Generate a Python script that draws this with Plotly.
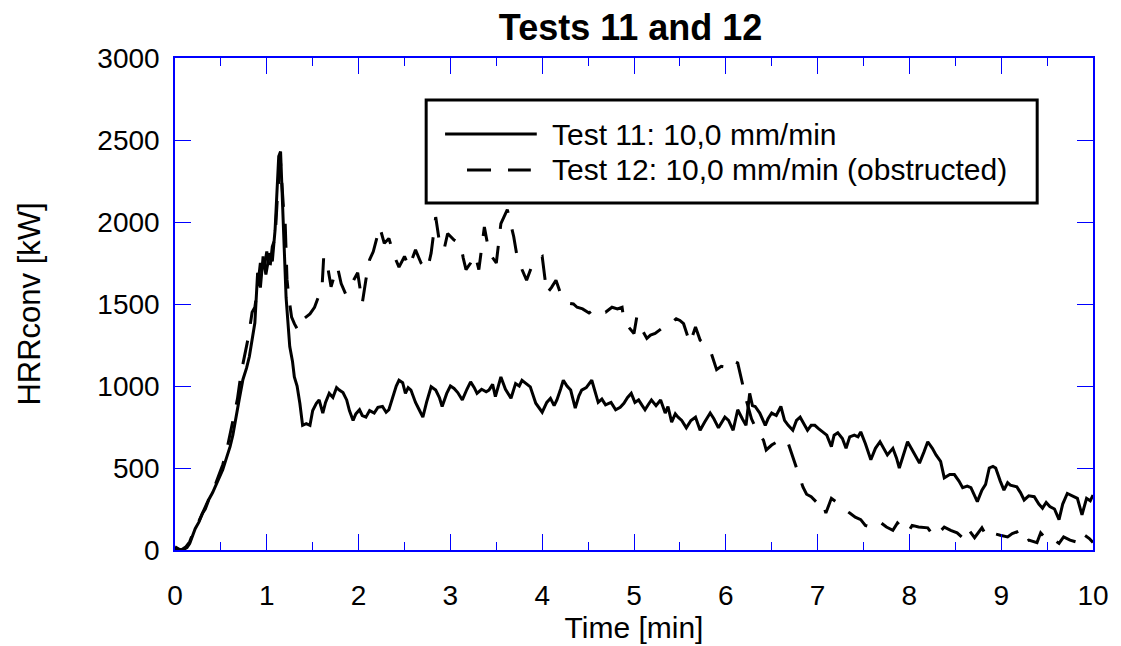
import plotly.graph_objects as go

# ---------------- data ----------------
t11 = [0.00,0.03,0.06,0.10,0.13,0.16,0.19,0.22,0.26,0.30,0.33,0.37,0.41,0.45,0.49,0.52,0.56,0.60,0.63,0.67,
       0.70,0.74,0.78,0.81,0.84,0.87,0.90,0.93,0.96,0.99,1.03,1.06,1.09,1.11,1.13,1.15,1.17,1.19,1.21,1.25,
       1.28,1.30,1.33,1.36,1.39,1.43,1.47,1.50,1.54,1.57,1.61,1.64,1.68,1.72,1.76,1.79,1.83,1.87,1.90,1.94,
       1.97,2.01,2.04,2.08,2.12,2.17,2.21,2.26,2.30,2.33,2.37,2.41,2.44,2.48,2.51,2.54,2.57,2.62,2.66,2.70,
       2.74,2.79,2.84,2.88,2.91,2.96,3.00,3.04,3.08,3.13,3.18,3.22,3.26,3.29,3.34,3.39,3.42,3.46,3.49,3.52,
       3.55,3.60,3.66,3.71,3.75,3.78,3.83,3.87,3.93,3.97,4.00,4.05,4.09,4.13,4.16,4.20,4.23,4.27,4.31,4.36,
       4.40,4.43,4.48,4.54,4.58,4.61,4.65,4.69,4.75,4.80,4.85,4.89,4.93,4.97,5.01,5.05,5.09,5.12,5.16,5.19,
       5.24,5.29,5.34,5.37,5.41,5.45,5.48,5.52,5.57,5.62,5.67,5.72,5.77,5.83,5.87,5.92,5.99,6.03,6.08,6.13,
       6.18,6.22,6.26,6.29,6.32,6.37,6.43,6.46,6.50,6.55,6.60,6.64,6.68,6.73,6.77,6.81,6.85,6.89,6.93,6.97,
       7.01,7.06,7.10,7.15,7.18,7.22,7.27,7.31,7.35,7.40,7.44,7.47,7.52,7.58,7.63,7.68,7.72,7.76,7.82,7.86,
       7.89,7.94,7.98,8.02,8.05,8.11,8.16,8.20,8.25,8.29,8.34,8.38,8.44,8.49,8.54,8.58,8.63,8.67,8.74,8.79,
       8.83,8.87,8.91,8.94,8.99,9.03,9.07,9.10,9.17,9.21,9.25,9.30,9.36,9.41,9.45,9.49,9.53,9.58,9.63,9.67,
       9.72,9.77,9.83,9.88,9.93,9.97,10.00]
hrr11 = [20,10,0,5,15,40,90,130,170,225,250,310,350,400,450,490,560,630,700,835,
         920,1040,1110,1180,1280,1385,1690,1600,1790,1680,1810,1760,1950,2180,2400,2430,2150,1850,1540,1240,
         1150,1055,1000,895,760,770,760,850,895,915,835,900,955,930,990,975,960,915,850,790,
         830,855,820,810,850,835,870,875,840,855,930,1000,1035,1020,955,990,975,900,855,810,
         900,995,975,930,875,955,1000,985,960,915,980,1025,990,955,980,965,975,1010,935,990,
         1055,980,925,1015,1000,1035,1010,995,895,860,840,900,925,880,915,980,1035,1000,975,865,
         940,975,990,1035,960,900,920,885,900,855,870,895,930,955,900,915,880,855,890,915,
         880,915,835,875,780,830,810,790,745,790,810,730,780,835,800,745,810,790,730,855,
         800,760,955,880,875,835,760,800,835,820,875,790,760,730,790,810,770,730,760,760,
         740,715,700,630,700,715,680,620,690,700,690,720,650,550,620,660,620,580,620,560,
         500,590,660,620,590,530,600,660,620,580,540,440,460,460,420,380,390,380,295,365,
         400,500,510,500,420,365,410,395,385,350,305,330,325,280,255,290,265,250,185,280,
         345,330,315,215,315,300,335]

t12 = [0.00,0.04,0.08,0.12,0.16,0.20,0.24,0.28,0.32,0.36,0.40,0.44,0.48,0.52,0.56,0.60,0.64,0.68,0.72,0.76,
       0.80,0.84,0.87,0.90,0.93,0.96,1.00,1.03,1.06,1.09,1.12,1.15,1.18,1.20,1.22,1.24,1.27,1.30,1.34,1.38,
       1.43,1.47,1.52,1.56,1.60,1.62,1.65,1.70,1.74,1.77,1.81,1.86,1.90,1.95,1.99,2.04,2.08,2.12,2.16,2.19,
       2.23,2.28,2.33,2.39,2.44,2.50,2.55,2.62,2.68,2.75,2.79,2.84,2.88,2.93,2.97,3.04,3.11,3.14,3.17,3.22,
       3.27,3.31,3.37,3.41,3.45,3.50,3.55,3.62,3.69,3.72,3.78,3.83,3.88,3.94,4.00,4.05,4.10,4.15,4.20,4.25,
       4.29,4.34,4.38,4.44,4.51,4.58,4.64,4.69,4.76,4.82,4.87,4.89,4.94,5.00,5.03,5.08,5.14,5.18,5.23,5.30,
       5.35,5.40,5.46,5.50,5.54,5.61,5.67,5.72,5.78,5.83,5.90,5.95,6.00,6.06,6.13,6.17,6.22,6.28,6.35,6.41,
       6.44,6.50,6.56,6.62,6.68,6.73,6.79,6.84,6.88,6.93,7.00,7.05,7.09,7.15,7.21,7.27,7.35,7.41,7.47,7.52,
       7.60,7.68,7.75,7.82,7.87,7.93,7.98,8.03,8.10,8.20,8.27,8.33,8.38,8.45,8.52,8.58,8.63,8.71,8.79,8.85,
       8.92,8.99,9.07,9.12,9.17,9.23,9.30,9.39,9.43,9.50,9.56,9.63,9.68,9.75,9.81,9.86,9.91,9.96,10.00]
hrr12 = [10,0,5,20,50,110,150,200,240,300,360,400,460,520,600,700,800,920,1080,1180,
         1300,1450,1480,1600,1750,1680,1820,1700,1850,1900,2200,2360,2100,2000,1650,1540,1420,1380,1340,1400,
         1420,1440,1480,1540,1585,1790,1770,1605,1680,1725,1625,1560,1585,1650,1690,1505,1650,1770,1820,1890,
         1970,1870,1900,1790,1725,1790,1725,1830,1750,1710,1810,2030,1880,1830,1930,1890,1870,1780,1710,1750,
         1800,1710,1970,1850,1790,1750,1990,2075,1910,1810,1710,1645,1720,1770,1790,1565,1600,1645,1565,1520,
         1505,1500,1480,1470,1445,1475,1450,1450,1480,1470,1480,1400,1360,1320,1420,1350,1290,1310,1320,1350,
         1380,1380,1410,1400,1380,1260,1360,1280,1250,1220,1100,1120,1115,1160,1140,1035,920,800,715,670,
         610,640,660,680,650,570,475,385,340,325,285,300,225,315,290,255,225,200,185,150,
         135,170,140,120,165,130,105,150,140,135,80,110,140,120,105,75,135,75,135,75,
         100,90,80,100,110,40,60,45,105,60,70,40,80,60,50,30,90,70,45]

series_names = ["Test 11: 10,0 mm/min", "Test 12: 10,0 mm/min (obstructed)"]
x_ticks = [0, 1, 2, 3, 4, 5, 6, 7, 8, 9, 10]
y_ticks = [0, 500, 1000, 1500, 2000, 2500, 3000]

FONT = "Liberation Sans, Arial, sans-serif"
BLUE = "#0000ff"
DASH = "24px,17px"

fig = go.Figure()
fig.add_trace(go.Scatter(x=t11, y=hrr11, mode="lines", name=series_names[0],
                         line=dict(color="black", width=3), showlegend=False))
fig.add_trace(go.Scatter(x=t12, y=hrr12, mode="lines", name=series_names[1],
                         line=dict(color="black", width=3, dash=DASH), showlegend=False))

axis_common = dict(showline=True, linecolor=BLUE, linewidth=1.5, mirror="ticks",
                   ticks="inside", ticklen=16, tickcolor=BLUE, tickwidth=1,
                   showgrid=False, zeroline=False,
                   tickfont=dict(family=FONT, size=28, color="black"))

fig.update_xaxes(range=[0, 10], tickvals=x_ticks, ticklabelstandoff=20,
                 minor=dict(dtick=0.5, ticks="inside", ticklen=8, tickcolor=BLUE, tickwidth=1),
                 title=dict(text="Time [min]", font=dict(family=FONT, size=30, color="black"), standoff=2),
                 **axis_common)
fig.update_yaxes(range=[0, 3000], tickvals=y_ticks, ticklabelstandoff=8,
                 title=dict(text="HRRconv [kW]", font=dict(family=FONT, size=31, color="black"), standoff=48),
                 **axis_common)

# legend drawn as a framed box (paper coordinates)
fig.add_shape(type="rect", xref="paper", yref="paper", x0=0.2736, x1=0.9392, y0=0.7053, y1=0.9146,
              line=dict(color="black", width=3), fillcolor="white", layer="above")
fig.add_shape(type="line", xref="paper", yref="paper", x0=0.2942, x1=0.3941, y0=0.8455, y1=0.8455,
              line=dict(color="black", width=3), layer="above")
fig.add_shape(type="line", xref="paper", yref="paper", x0=0.3181, x1=0.3876, y0=0.7724, y1=0.7724,
              line=dict(color="black", width=3, dash=DASH), layer="above")
for name, yy in zip(series_names, [0.8455, 0.7724]):
    fig.add_annotation(xref="paper", yref="paper", x=0.4083, y=yy, text=name, showarrow=False,
                       xanchor="left", yanchor="middle", font=dict(family=FONT, size=30, color="black"))

fig.update_layout(
    width=1121, height=646,
    margin=dict(l=175, r=25, t=58, b=96),
    paper_bgcolor="white", plot_bgcolor="white",
    title=dict(text="<b>Tests 11 and 12</b>", x=0.5625, xanchor="center", y=0.958, yanchor="middle",
               font=dict(family=FONT, size=36, color="black")),
)

fig.write_html("out.html")
